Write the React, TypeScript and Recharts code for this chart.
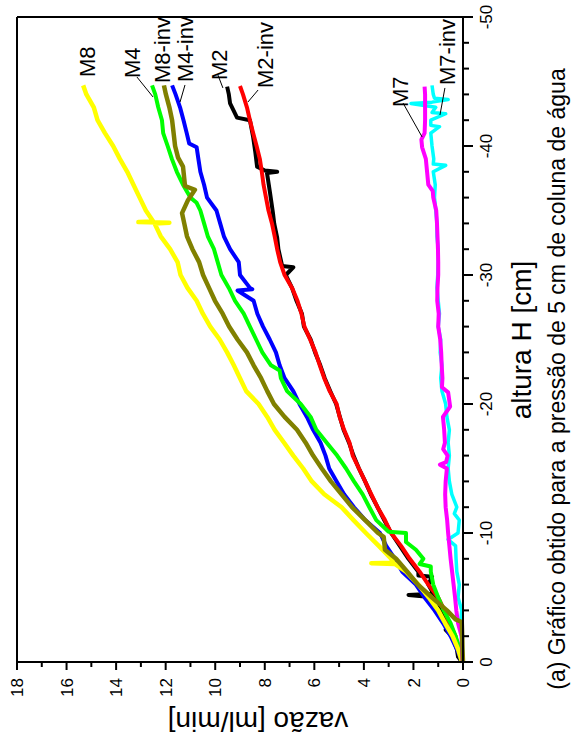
import { LineChart, Line, XAxis, YAxis, ReferenceLine, ReferenceDot } from 'recharts';

// altura H [cm] vs vazão [ml/min], drawn unrotated and turned 90° for the page

const H_TICKS = [0, -2, -4, -6, -8, -10, -12, -14, -16, -18, -20, -22, -24, -26, -28, -30, -32, -34, -36, -38, -40, -42, -44, -46, -48, -50];
const V_TICKS = [0, 1, 2, 3, 4, 5, 6, 7, 8, 9, 10, 11, 12, 13, 14, 15, 16, 17, 18];

// [H, vazão]
const M8: [number, number][] = [
  [0, 0.04], [-1, 0.2], [-2, 0.42], [-3, 0.72], [-4, 1.0], [-5, 1.38], [-6, 1.8], [-7, 2.3], [-7.6, 2.75], [-7.65, 3.7], [-7.7, 2.8],
  [-8, 2.9], [-9, 3.4], [-10, 3.92], [-11, 4.42], [-12, 4.9], [-13, 5.6], [-14, 6.1], [-15, 6.45], [-16, 6.85], [-17, 7.22],
  [-18, 7.6], [-19, 7.9], [-20, 8.25], [-21, 8.75], [-22, 9.0], [-23, 9.25], [-24, 9.52], [-25, 9.82], [-26, 10.2], [-27, 10.5],
  [-28, 10.75], [-29, 11.12], [-30, 11.4], [-31, 11.52], [-32, 11.82], [-33, 12.2], [-34, 12.45], [-34.05, 11.85], [-34.1, 13.1],
  [-34.15, 12.5], [-35, 12.8], [-36, 13.05], [-37, 13.3], [-38, 13.55], [-39, 13.85], [-40, 14.12], [-41, 14.45], [-42, 14.75],
  [-43, 14.9], [-44, 15.2], [-44.7, 15.33],
];
const M4: [number, number][] = [
  [0, 0.04], [-1, 0.12], [-2, 0.3], [-3, 0.5], [-4, 0.78], [-5, 1.0], [-6, 1.2], [-7, 1.3], [-7.4, 1.3], [-7.6, 1.75], [-8, 1.6],
  [-8.7, 1.9], [-9.3, 2.3], [-10, 2.3], [-10.1, 3.0], [-11, 3.5], [-12, 3.78], [-13, 4.05], [-14, 4.4], [-15, 4.72], [-16, 5.08],
  [-17, 5.5], [-18, 5.92], [-19, 6.15], [-20, 6.55], [-21, 7.1], [-22, 7.35], [-22.6, 7.4], [-23, 7.75], [-24, 8.1], [-25, 8.35],
  [-26, 8.6], [-27, 8.85], [-28, 9.2], [-29, 9.45], [-30, 9.75], [-31, 9.9], [-32, 10.05], [-33, 10.3], [-34, 10.45], [-35, 10.6],
  [-35.6, 10.75], [-36, 11.0], [-37, 11.3], [-38, 11.55], [-39, 11.75], [-40, 11.92], [-41, 12.1], [-42, 12.15], [-43, 12.3],
  [-44, 12.42], [-44.7, 12.55],
];
const M8_INV: [number, number][] = [
  [0, 0.0], [-1, 0.02], [-2, 0.03], [-3.1, 0.05], [-3.3, 0.3], [-4, 0.65], [-5, 1.25], [-6, 1.82], [-7, 2.25], [-8, 2.7],
  [-8.7, 3.15], [-9.7, 3.2], [-10, 3.43], [-11, 3.95], [-12, 4.48], [-13, 4.9], [-14, 5.33], [-15, 5.7], [-16, 6.05], [-17, 6.35],
  [-18, 6.7], [-19, 7.2], [-20, 7.63], [-21, 7.9], [-22, 8.15], [-23, 8.45], [-24, 8.72], [-25, 9.1], [-26, 9.44], [-27, 9.7],
  [-28, 10.01], [-29, 10.25], [-30, 10.49], [-31, 10.65], [-32, 10.92], [-33, 11.14], [-34, 11.25], [-34.8, 11.34], [-35.8, 11.1],
  [-36.6, 10.82], [-36.9, 11.22], [-38.4, 11.3], [-39.1, 11.5], [-40, 11.62], [-41, 11.68], [-42, 11.74], [-43, 11.85],
  [-44, 11.99], [-44.7, 12.07],
];
const M4_INV: [number, number][] = [
  [0, 0.04], [-1, 0.25], [-2, 0.5], [-3, 0.8], [-4, 1.15], [-5, 1.55], [-6, 1.9], [-7, 2.45], [-8, 2.75], [-9, 3.1], [-10, 3.35],
  [-11, 3.95], [-12, 4.4], [-13, 4.8], [-14, 5.1], [-15, 5.4], [-16, 5.55], [-17, 5.75], [-18, 6.05], [-19, 6.3], [-20, 6.6],
  [-21, 6.85], [-22, 7.2], [-23, 7.4], [-24, 7.55], [-25, 7.8], [-26, 8.07], [-27, 8.3], [-28, 8.45], [-28.8, 9.1], [-28.9, 8.5],
  [-29, 8.6], [-30, 9.0], [-31, 9.05], [-32, 9.4], [-33, 9.65], [-34, 9.8], [-35, 9.95], [-36, 10.33], [-37, 10.45], [-38, 10.6],
  [-39, 10.68], [-39.9, 10.75], [-40.2, 11.05], [-41, 11.15], [-42, 11.28], [-43, 11.42], [-44, 11.6], [-44.7, 11.74],
];
const M2: [number, number][] = [
  [0, 0.04], [-0.4, 0.2], [-1, 0.25], [-1.5, 0.35], [-2, 0.45], [-2.5, 0.7], [-3, 0.6], [-4, 0.85], [-5, 1.1], [-5.2, 2.2],
  [-5.3, 1.2], [-6, 1.4], [-6.6, 1.25], [-6.7, 1.8], [-7, 1.8], [-8, 2.2], [-9, 2.55], [-10, 2.9], [-11, 3.18], [-12, 3.45],
  [-13, 3.72], [-14, 3.95], [-15, 4.2], [-16, 4.42], [-17, 4.6], [-18, 4.82], [-19, 4.97], [-20, 5.12], [-21, 5.36], [-22, 5.58],
  [-23, 5.76], [-24, 5.97], [-25, 6.15], [-26, 6.42], [-27, 6.5], [-28, 6.72], [-29, 6.9], [-30, 7.15], [-30.6, 6.85],
  [-30.7, 7.3], [-31.4, 7.38], [-32, 7.45], [-32.9, 7.5], [-34, 7.62], [-34.8, 7.67], [-36.4, 7.79], [-37.9, 7.91], [-38.0, 7.5],
  [-38.1, 8.0], [-38.4, 8.31], [-39.5, 8.38], [-40.7, 8.47], [-42.0, 8.6], [-42.2, 9.12], [-43.3, 9.4], [-44, 9.45], [-44.6, 9.52],
];
const M2_INV: [number, number][] = [
  [0, 0.04], [-1, 0.2], [-2, 0.3], [-3, 0.55], [-4, 0.75], [-5, 1.0], [-6, 1.4], [-7, 1.75], [-8, 2.15], [-9, 2.5], [-10, 2.9],
  [-11, 3.15], [-12, 3.45], [-13, 3.7], [-14, 3.95], [-15, 4.2], [-16, 4.45], [-17, 4.58], [-18, 4.8], [-19, 4.98], [-20, 5.1],
  [-21, 5.38], [-22, 5.6], [-23, 5.78], [-24, 5.95], [-25, 6.17], [-26, 6.4], [-27, 6.52], [-28, 6.68], [-29, 6.9], [-30, 7.2],
  [-31, 7.38], [-32, 7.5], [-33, 7.6], [-34, 7.71], [-35, 7.85], [-36, 7.95], [-37, 8.05], [-38, 8.12], [-39, 8.2], [-40, 8.33],
  [-41, 8.47], [-42, 8.6], [-43, 8.72], [-44, 8.88], [-44.65, 9.0],
];
const M7: [number, number][] = [
  [0, 0.02], [-1, 0.04], [-2, 0.06], [-3, 0.2], [-4, 0.27], [-5, 0.32], [-6, 0.38], [-7, 0.44], [-8, 0.5], [-9, 0.55], [-10, 0.6],
  [-11, 0.64], [-12, 0.7], [-13, 0.72], [-14, 0.7], [-15, 0.65], [-15.3, 0.93], [-15.5, 0.68], [-16, 0.62], [-16.5, 0.8],
  [-17, 0.73], [-18, 0.76], [-19, 0.81], [-19.8, 0.52], [-20.9, 0.6], [-21.3, 0.85], [-22, 0.83], [-23, 0.86], [-24, 0.88],
  [-25, 0.92], [-26, 1.0], [-27, 0.98], [-28, 1.04], [-29, 1.03], [-30, 1.0], [-31, 1.0], [-32, 1.01], [-33, 1.03], [-34, 1.05],
  [-35, 1.08], [-36, 1.2], [-36.5, 1.22], [-37, 1.4], [-38, 1.45], [-39, 1.5], [-39.9, 1.65], [-40.5, 1.68], [-41, 1.55],
  [-42, 1.53], [-43, 1.53], [-44, 1.53], [-44.6, 1.55],
];
const M7_INV: [number, number][] = [
  [0, 0.0], [-1, 0.02], [-2, 0.06], [-3, 0.1], [-4, 0.05], [-5, 0.2], [-6, 0.15], [-7, 0.25], [-8, 0.28], [-9, 0.3], [-9.5, 0.6],
  [-10, 0.2], [-11, 0.15], [-11.5, 0.35], [-12, 0.25], [-13, 0.45], [-14, 0.55], [-15, 0.6], [-16, 0.55], [-17, 0.6], [-18, 0.55],
  [-19, 0.65], [-20, 0.7], [-21, 0.85], [-22, 0.9], [-23, 0.85], [-24, 0.92], [-25, 0.9], [-26, 1.0], [-27, 0.95], [-28, 1.0],
  [-29, 1.05], [-30, 1.02], [-31, 1.0], [-32, 1.0], [-33, 1.05], [-34, 1.05], [-35, 1.1], [-36, 1.15], [-37, 1.12], [-38, 1.2],
  [-38.5, 0.7], [-38.6, 1.2], [-39, 1.18], [-40, 1.25], [-41, 1.3], [-41.5, 0.95], [-41.6, 1.3], [-42, 1.3], [-42.5, 0.7],
  [-42.6, 1.25], [-43, 1.1], [-43.3, 2.1], [-43.4, 1.25], [-43.6, 0.6], [-43.7, 1.15], [-44, 1.2], [-44.7, 1.25],
];

// text tags and their leader lines: [H, vazão]
const TAGS: { name: string; at: [number, number] }[] = [
  { name: 'M8', at: [-45.35, 14.85] },
  { name: 'M4', at: [-45.27, 13.03] },
  { name: 'M8-inv', at: [-44.88, 11.82] },
  { name: 'M4-inv', at: [-44.96, 10.9] },
  { name: 'M2', at: [-45.12, 9.52] },
  { name: 'M2-inv', at: [-44.5, 7.67] },
  { name: 'M7', at: [-43.02, 2.22] },
  { name: 'M7-inv', at: [-44.73, 0.32] },
];
const LEADERS: [number, number][][] = [
  [[-45.35, 13.16], [-43.8, 12.51]],
  [[-44.73, 11.22], [-43.41, 11.42]],
  [[-45.5, 9.89], [-44.5, 9.69]],
  [[-44.34, 8.27], [-43.41, 8.68]],
  [[-43.33, 2.42], [-40.7, 1.65]],
  [[-44.5, 0.73], [-42.4, 0.93]],
];

const SERIES = [
  { name: 'M2', data: M2, color: '#000000', w: 4 },
  { name: 'M2-inv', data: M2_INV, color: '#ff0000', w: 4 },
  { name: 'M4-inv', data: M4_INV, color: '#0000ff', w: 4 },
  { name: 'M4', data: M4, color: '#00ff00', w: 4 },
  { name: 'M8', data: M8, color: '#ffff00', w: 4.5 },
  { name: 'M7-inv', data: M7_INV, color: '#00ffff', w: 3.5 },
  { name: 'M7', data: M7, color: '#ff00ff', w: 4 },
  { name: 'M8-inv', data: M8_INV, color: '#808000', w: 4.5 },
];

const FONT = '"Liberation Sans", Arial, sans-serif';

const XTick = (props: any) => {
  const { x, y, payload } = props;
  const major = payload.value % 10 === 0;
  return (
    <g>
      <line x1={x} y1={y} x2={x} y2={y + (major ? 10 : 6)} stroke="#000" strokeWidth={2} />
      {major && (
        <text x={x} y={y + 17} dy="0.71em" textAnchor="middle" fontSize={17} fontFamily={FONT} fill="#000">
          {payload.value}
        </text>
      )}
    </g>
  );
};

const YTick = (props: any) => {
  const { x, y, payload } = props;
  const major = payload.value % 2 === 0;
  return (
    <g>
      <line x1={x} y1={y} x2={x - (major ? 8 : 5)} y2={y} stroke="#000" strokeWidth={2} />
      {major && (
        <text x={x - 16} y={y} dy="0.36em" textAnchor="end" fontSize={17} fontFamily={FONT} fill="#000">
          {payload.value}
        </text>
      )}
    </g>
  );
};

const tagLabel = (text: string) => (p: any) => {
  const { x, y } = p.viewBox;
  return (
    <text x={x + 1} y={y + 1} fontSize={22} fontFamily={FONT} fill="#000">
      {text}
    </text>
  );
};

export default function App() {
  return (
    <div style={{ position: 'absolute', left: 0, top: 0, width: 573, height: 751, overflow: 'hidden', background: '#fff' }}>
      <div style={{ width: 751, height: 573, transformOrigin: '0 0', transform: 'translate(0px, 751px) rotate(-90deg)' }}>
        <LineChart width={751} height={573} margin={{ top: 17, right: 17, bottom: 80, left: 29 }}>
          <XAxis
            type="number"
            dataKey="h"
            domain={[-50, 0]}
            reversed
            ticks={H_TICKS}
            interval={0}
            height={30}
            tickSize={0}
            tickMargin={0}
            tickLine={false}
            axisLine={{ stroke: '#000', strokeWidth: 2 }}
            tick={<XTick />}
            label={() => (
              <g fontFamily={FONT} fill="#000">
                <text x={411} y={531} textAnchor="middle" fontSize={28}>altura H [cm]</text>
                <text x={372} y={565} textAnchor="middle" fontSize={23}>(a) Gráfico obtido para a pressão de 5 cm de coluna de água</text>
              </g>
            )}
          />
          <YAxis
            type="number"
            dataKey="v"
            domain={[0, 18]}
            ticks={V_TICKS}
            interval={0}
            width={60}
            tickSize={0}
            tickMargin={0}
            tickLine={false}
            axisLine={{ stroke: '#000', strokeWidth: 2 }}
            tick={<YTick />}
            label={() => (
              <text x={30} y={258} transform="rotate(-90 30 258)" textAnchor="middle" dominantBaseline="central" fontSize={28} fontFamily={FONT} fill="#000">
                vazão [ml/min]
              </text>
            )}
          />
          <ReferenceLine y={18} stroke="#000" strokeWidth={2} />
          <ReferenceLine x={-50} stroke="#000" strokeWidth={2} />
          {SERIES.map((s) => (
            <Line
              key={s.name}
              data={s.data.map(([h, v]) => ({ h, v }))}
              dataKey="v"
              name={s.name}
              type="linear"
              stroke={s.color}
              strokeWidth={s.w}
              strokeLinejoin="round"
              dot={false}
              activeDot={false}
              isAnimationActive={false}
            />
          ))}
          {LEADERS.map((seg, i) => (
            <ReferenceLine
              key={`lead-${i}`}
              segment={[{ x: seg[0][0], y: seg[0][1] }, { x: seg[1][0], y: seg[1][1] }]}
              stroke="#000"
              strokeWidth={1}
            />
          ))}
          {TAGS.map((t) => (
            <ReferenceDot key={t.name} x={t.at[0]} y={t.at[1]} r={1} fill="none" stroke="none" label={tagLabel(t.name)} />
          ))}
        </LineChart>
      </div>
    </div>
  );
}
